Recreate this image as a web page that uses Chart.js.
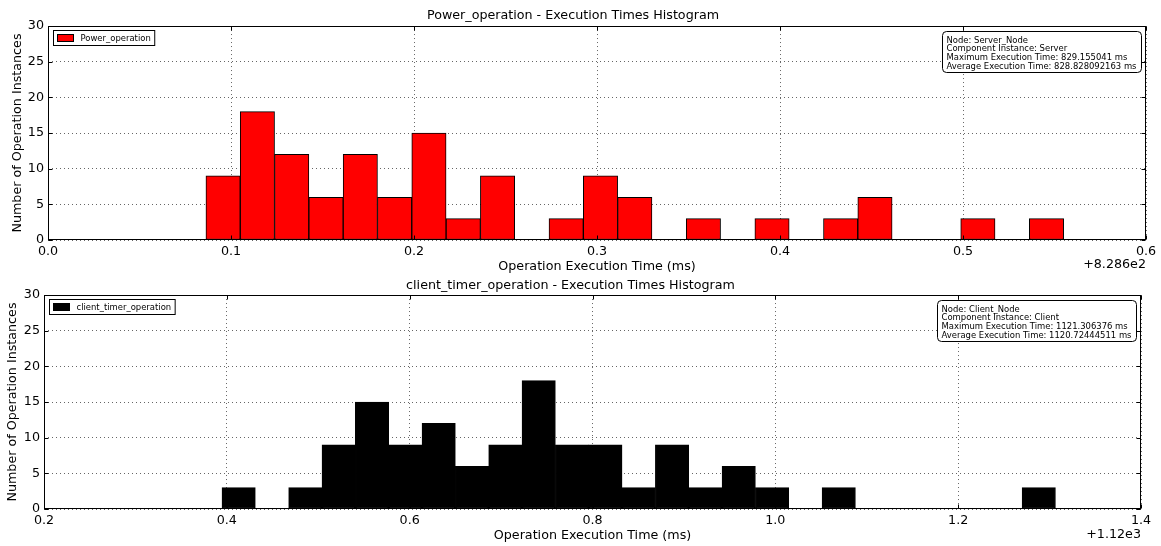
<!DOCTYPE html>
<html>
<head>
<meta charset="utf-8">
<script src="https://cdn.jsdelivr.net/npm/chart.js@4.4.0/dist/chart.umd.min.js"></script>
<style>
  body { margin: 0; background: #fff; }
  .panel { width: 1161px; height: 273px; }
</style>
</head>
<body>
<div class="panel"><canvas id="powerChart" width="1161" height="273"></canvas></div>
<div class="panel"><canvas id="clientChart" width="1161" height="273"></canvas></div>
<script>
// histogram data (x values are offsets from the axis offset text)
const powerRange = [0.0863, 0.5550];
const powerCounts = [9, 18, 12, 6, 12, 6, 15, 3, 9, 0, 3, 9, 6, 0, 3, 0, 3, 0, 3, 6, 0, 0, 3, 0, 3];
const powerTicks = [0.0, 0.1, 0.2, 0.3, 0.4, 0.5, 0.6];
const powerInfo = [
    'Node: Server_Node',
    'Component Instance: Server',
    'Maximum Execution Time: 829.155041 ms',
    'Average Execution Time: 828.828092163 ms'
];

const clientRange = [0.3947, 1.3064];
const clientCounts = [3, 0, 3, 9, 15, 9, 12, 6, 9, 18, 9, 9, 3, 9, 3, 6, 3, 0, 3, 0, 0, 0, 0, 0, 3];
const clientTicks = [0.2, 0.4, 0.6, 0.8, 1.0, 1.2, 1.4];
const clientInfo = [
    'Node: Client_Node',
    'Component Instance: Client',
    'Maximum Execution Time: 1121.306376 ms',
    'Average Execution Time: 1120.72444511 ms'
];

const yTicks = [0, 5, 10, 15, 20, 25, 30];

const BIG = 12.7, SMALL = 8.45;

Chart.defaults.font.family = "'DejaVu Sans', sans-serif";
Chart.defaults.color = '#000';

function binPoints(range, counts) {
    const w = (range[1] - range[0]) / counts.length;
    return counts.map((c, i) => ({ x: range[0] + w * (i + 0.5), y: c }));
}

// frame, inner ticks, legend box, info box and offset text
function decorPlugin(cfg) {
    return {
        id: 'decor',
        afterDraw(chart) {
            const ctx = chart.ctx;
            const a = chart.chartArea;
            const xs = chart.scales.x, ys = chart.scales.y;
            const L = Math.round(a.left) + 0.5, R = Math.round(a.right) - 0.5;
            const T = Math.round(a.top) + 0.5, B = Math.round(a.bottom) - 0.5;
            ctx.save();
            ctx.strokeStyle = '#000';
            ctx.lineWidth = 1;
            ctx.beginPath();
            cfg.xTicks.forEach(v => {
                const p = Math.round(xs.getPixelForValue(v)) + 0.5;
                ctx.moveTo(p, B); ctx.lineTo(p, B - 4);
                ctx.moveTo(p, T); ctx.lineTo(p, T + 4);
            });
            yTicks.forEach(v => {
                const p = Math.round(ys.getPixelForValue(v)) + 0.5;
                ctx.moveTo(L, p); ctx.lineTo(L + 4, p);
                ctx.moveTo(R, p); ctx.lineTo(R - 4, p);
            });
            ctx.stroke();
            ctx.strokeRect(L, T, R - L, B - T);

            // legend
            ctx.font = SMALL + "px 'DejaVu Sans'";
            ctx.textBaseline = 'middle';
            ctx.textAlign = 'left';
            const lw = ctx.measureText(cfg.label).width;
            const lx = L + 5, ly = T + 4, lh = 15;
            ctx.fillStyle = '#fff';
            ctx.fillRect(lx, ly, 4 + 16 + 7 + lw + 4, lh);
            ctx.strokeRect(lx, ly, 4 + 16 + 7 + lw + 4, lh);
            ctx.fillStyle = cfg.color;
            ctx.fillRect(lx + 4, ly + 4, 16, 7);
            ctx.strokeRect(lx + 4, ly + 4, 16, 7);
            ctx.fillStyle = '#000';
            ctx.fillText(cfg.label, lx + 27, ly + lh / 2 + 0.5);

            // info box
            const tw = Math.max(...cfg.info.map(s => ctx.measureText(s).width));
            const bw = tw + 9, bh = 41;
            const bx = R - 4 - bw, by = T + 5;
            ctx.beginPath();
            ctx.roundRect(bx, by, bw, bh, 4);
            ctx.fillStyle = '#fff';
            ctx.fill();
            ctx.stroke();
            ctx.fillStyle = '#000';
            cfg.info.forEach((s, i) => ctx.fillText(s, bx + 4, by + 9 + i * 8.8));

            // offset text
            ctx.font = BIG + "px 'DejaVu Sans'";
            ctx.textAlign = 'right';
            ctx.fillText(cfg.offset, a.right, cfg.offsetY);
            ctx.restore();
        }
    };
}

function makeChart(id, p) {
    new Chart(document.getElementById(id), {
        type: 'bar',
        data: {
            datasets: [{
                label: p.label,
                data: binPoints(p.range, p.counts),
                backgroundColor: p.color,
                borderColor: '#000',
                borderWidth: c => (c.raw && c.raw.y > 0 ? 1 : 0),
                borderSkipped: false,
                barPercentage: 1,
                categoryPercentage: 1
            }]
        },
        options: {
            responsive: false,
            animation: false,
            events: [],
            layout: { padding: { left: 0, right: p.padRight, top: 0, bottom: 0 } },
            plugins: {
                legend: { display: false },
                tooltip: { enabled: false },
                title: {
                    display: true,
                    text: p.title,
                    color: '#000',
                    font: { size: BIG, weight: 'normal', lineHeight: 1.2 },
                    padding: p.titlePad
                }
            },
            scales: {
                x: {
                    type: 'linear',
                    min: p.xTicks[0],
                    max: p.xTicks[p.xTicks.length - 1],
                    offset: false,
                    z: 1,
                    afterBuildTicks: s => { s.ticks = p.xTicks.map(v => ({ value: v })); },
                    afterFit: s => { s.height = p.xHeight; },
                    ticks: {
                        padding: 4,
                        maxRotation: 0,
                        autoSkip: false,
                        font: { size: BIG },
                        callback: v => v.toFixed(1)
                    },
                    grid: { offset: false, drawTicks: false, color: 'rgba(0,0,0,0.6)' },
                    border: { display: false, dash: [1, 3] },
                    title: {
                        display: true,
                        text: 'Operation Execution Time (ms)',
                        font: { size: BIG, lineHeight: 1 },
                        padding: { top: 0, bottom: p.xTitleBottom }
                    }
                },
                y: {
                    min: 0,
                    max: 30,
                    z: 1,
                    afterBuildTicks: s => { s.ticks = yTicks.map(v => ({ value: v })); },
                    afterFit: s => { s.width = p.yWidth; },
                    ticks: { padding: 4, font: { size: BIG } },
                    grid: { drawTicks: false, color: 'rgba(0,0,0,0.6)' },
                    border: { display: false, dash: [1, 3] },
                    title: {
                        display: true,
                        text: 'Number of Operation Instances',
                        font: { size: BIG, lineHeight: 1 },
                        padding: { top: p.yTitleTop, bottom: 0 }
                    }
                }
            }
        },
        plugins: [decorPlugin({
            xTicks: p.xTicks, label: p.label, color: p.color,
            info: p.info, offset: p.offset, offsetY: p.offsetY
        })]
    });
}

makeChart('powerChart', {
    label: 'Power_operation',
    title: 'Power_operation - Execution Times Histogram',
    range: powerRange, counts: powerCounts, xTicks: powerTicks, info: powerInfo,
    color: '#ff0000', offset: '+8.286e2', offsetY: 265,
    padRight: 15, yWidth: 48, xHeight: 33, xTitleBottom: 0, yTitleTop: 11.5,
    titlePad: { top: 8.4, bottom: 2.4 }
});

makeChart('clientChart', {
    label: 'client_timer_operation',
    title: 'client_timer_operation - Execution Times Histogram',
    range: clientRange, counts: clientCounts, xTicks: clientTicks, info: clientInfo,
    color: '#000000', offset: '+1.12e3', offsetY: 262,
    padRight: 20, yWidth: 44, xHeight: 37, xTitleBottom: 4, yTitleTop: 6.5,
    titlePad: { top: 5.4, bottom: 1.4 }
});
</script>
</body>
</html>
